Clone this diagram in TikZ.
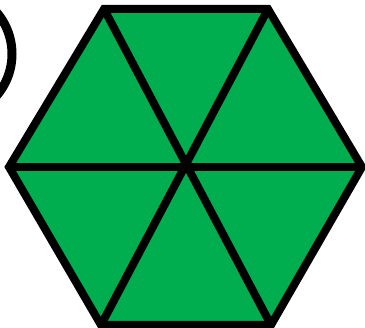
\documentclass[tikz,border=0pt]{standalone}
\usepackage{xcolor}
\usepackage{tikz}
\definecolor{hexgreen}{RGB}{0,173,79}

\begin{document}
\begin{tikzpicture}[x=1pt,y=-1pt,
 edge/.style={draw=black,line width=8pt,line join=miter},
 ring/.style={draw=black,line width=9pt}]
\useasboundingbox (0,0) rectangle (365,328);
\begin{scope}
\clip (0,0) rectangle (365,328);
\coordinate (o) at (186,167);
\coordinate (a) at (104,9);
\coordinate (b) at (268,9);
\coordinate (c) at (362,167);
\coordinate (d) at (271,325);
\coordinate (e) at (101,325);
\coordinate (f) at (9,167);
\fill[hexgreen] (a)--(b)--(c)--(d)--(e)--(f)--cycle;
\draw[edge] (a) -- (d);
\draw[edge] (b) -- (e);
\draw[edge] (f) -- (c);
\draw[edge] (a)--(b)--(c)--(d)--(e)--(f)--cycle;
\node[circle,ring,minimum size=128pt,inner sep=0pt] (r) at (-52,54) {};
\end{scope}
\end{tikzpicture}
\end{document}
